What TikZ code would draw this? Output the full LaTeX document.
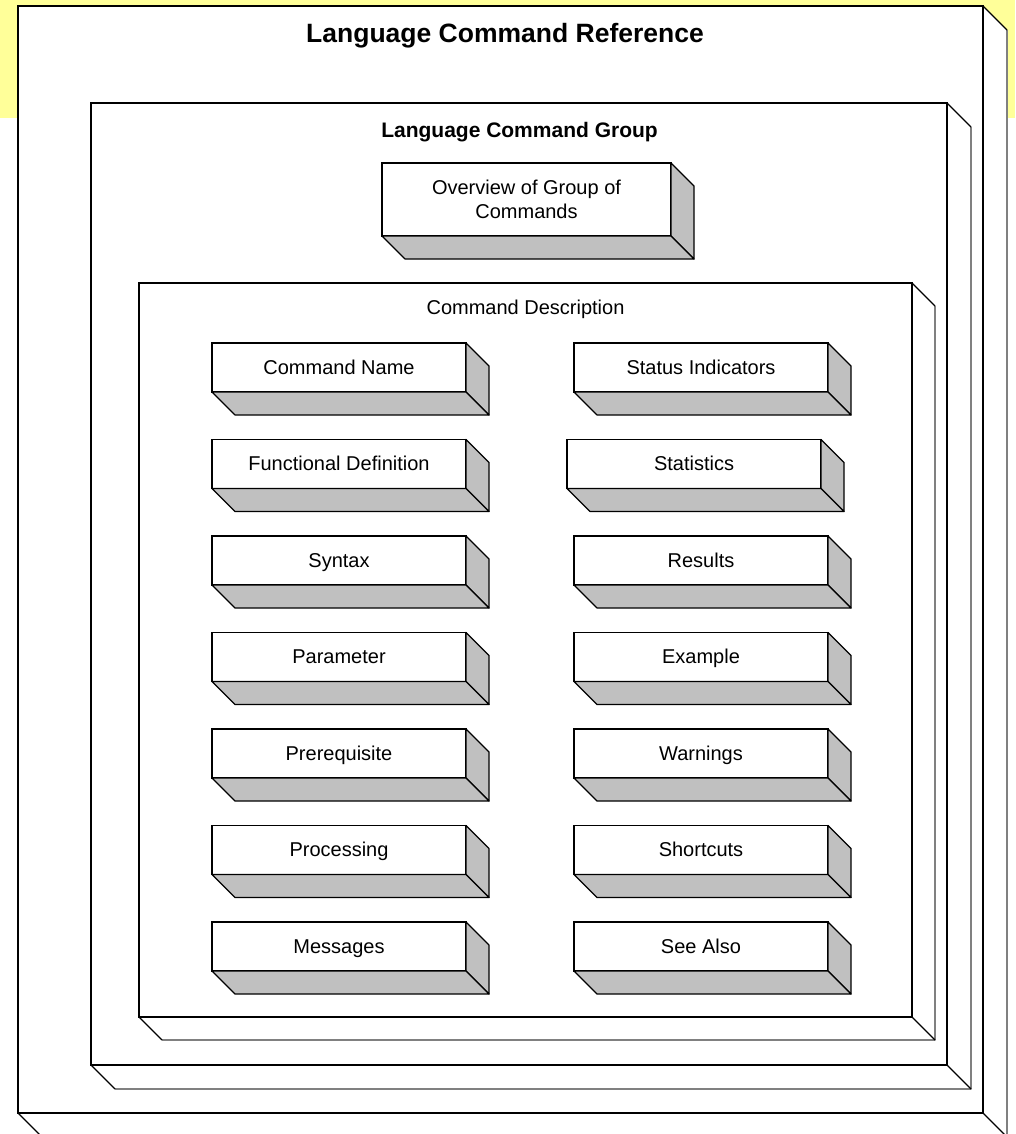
\documentclass[tikz,border=0pt]{standalone}
\usepackage{fontspec}
\setmainfont{Liberation Sans}
\usetikzlibrary{calc}

\definecolor{notebg}{HTML}{FFFF99}
\definecolor{facegray}{HTML}{C0C0C0}
\definecolor{edgegray}{HTML}{808080}

\tikzset{
    front/.style={draw=black, fill=white, line width=1.2pt, inner sep=0pt, outer sep=0pt},
    block/.style={front, minimum width=254pt, minimum height=49pt, align=center,
        text height=16pt, text depth=3pt, font=\fontsize{20}{24}\selectfont},
    face/.style={draw=black, fill=facegray, line width=1.2pt, line join=round},
    wall/.style={line width=1.2pt, line join=round},
}

% side and bottom face of a box: node, depth, style
\newcommand\boxdepth[3]{%
    \draw[#3] (#1.north east) -- ++(#2,#2) -- ($(#1.south east)+(#2,#2)$) -- (#1.south east) -- cycle;
    \draw[#3] (#1.south west) -- ++(#2,#2) -- ($(#1.south east)+(#2,#2)$) -- (#1.south east) -- cycle;
}
% white side and bottom of a frame, back edges in gray
\newcommand\framedepth[2]{%
    \fill[white] (#1.north east) -- ++(#2,#2) -- ($(#1.south east)+(#2,#2)$) -- ($(#1.south west)+(#2,#2)$) -- (#1.south west) -- cycle;
    \draw[wall, edgegray] ($(#1.north east)+(#2,#2)$) -- ($(#1.south east)+(#2,#2)$) -- ($(#1.south west)+(#2,#2)$);
    \draw[wall] (#1.north east) -- ++(#2,#2) (#1.south west) -- ++(#2,#2) (#1.south east) -- ++(#2,#2);
    \draw[wall] (#1.north east) -- (#1.south east) -- (#1.south west);
}

\begin{document}
\begin{tikzpicture}[x=1pt, y=-1pt]
    \clip (0,0) rectangle (1015,1134);
    \fill[notebg] (0,0) rectangle (1015,118);

    % nested frames
    \node (ref) at (500.5,559.5) [front, minimum width=965pt, minimum height=1107pt] {};
    \framedepth{ref}{24}
    \node (grp) at (519,584) [front, minimum width=856pt, minimum height=962pt] {};
    \framedepth{grp}{24}
    \node (desc) at (525.5,650) [front, minimum width=773pt, minimum height=734pt] {};
    \framedepth{desc}{23}

    \node (reftitle) at (505,43) [anchor=base, font=\bfseries\fontsize{26.5}{30}\selectfont] {Language Command Reference};
    \node (grptitle) at (519.5,138) [anchor=base, font=\bfseries\fontsize{21}{25}\selectfont] {Language Command Group};
    \node (desctitle) at (525.5,314) [anchor=base, font=\fontsize{20}{24}\selectfont] {Command Description};

    \node (overview) at (526.5,199.5) [block, minimum width=289pt, minimum height=73pt, text height=, text depth=] {Overview of Group of\\Commands};

    % left column
    \node (cmdname) at (339,367.5) [block] {Command Name};
    \node (funcdef) at (339,464) [block] {Functional Definition};
    \node (syntax) at (339,560.5) [block] {Syntax};
    \node (param) at (339,657) [block] {Parameter};
    \node (prereq) at (339,753.5) [block] {Prerequisite};
    \node (process) at (339,850) [block] {Processing};
    \node (messages) at (339,946.5) [block] {Messages};

    % right column
    \node (status) at (701,367.5) [block] {Status Indicators};
    \node (stats) at (694,464) [block] {Statistics};
    \node (results) at (701,560.5) [block] {Results};
    \node (example) at (701,657) [block] {Example};
    \node (warnings) at (701,753.5) [block] {Warnings};
    \node (shortcuts) at (701,850) [block] {Shortcuts};
    \node (seealso) at (701,946.5) [block] {See Also};

    \foreach \n in {overview,cmdname,funcdef,syntax,param,prereq,process,messages,status,stats,results,example,warnings,shortcuts,seealso}
        \boxdepth{\n}{23}{face};
\end{tikzpicture}
\end{document}
